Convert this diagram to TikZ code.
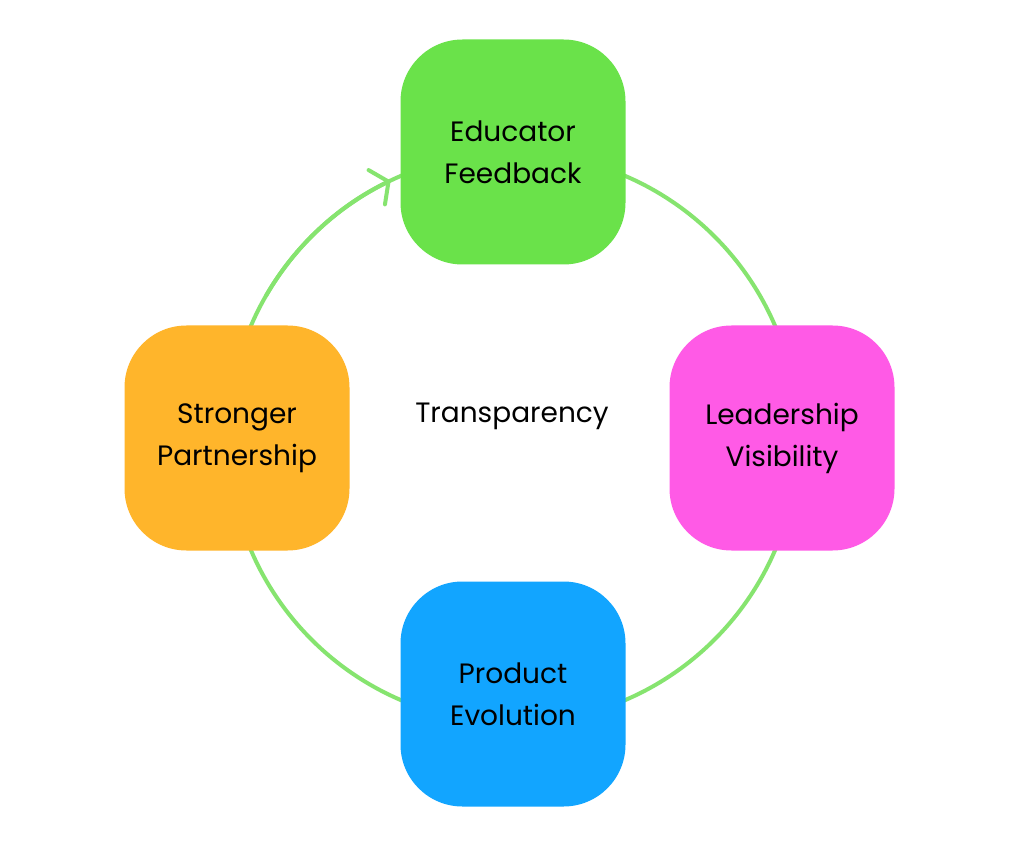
\documentclass[tikz,border=0pt]{standalone}
\usepackage{fontspec}
\setmainfont{Poppins}
\usetikzlibrary{arrows.meta}
\definecolor{cgreen}{HTML}{6AE24A}
\definecolor{cline}{HTML}{86E46F}
\definecolor{cpink}{HTML}{FF5AE6}
\definecolor{cblue}{HTML}{12A5FF}
\definecolor{corange}{HTML}{FFB52B}
\begin{document}
\begin{tikzpicture}[x=1pt,y=1pt,
  box/.style={minimum width=225pt,minimum height=225pt,rounded corners=62pt,align=center,font=\fontsize{28}{42}\selectfont,text=black,inner sep=0pt},
  ring/.style={draw=cline,line width=4pt}]
\useasboundingbox (0,0) rectangle (1024,847);
\fill[white] (0,0) rectangle (1024,847);
\coordinate (c) at (513,409);
\draw[ring] (c) circle (285);
\draw[ring,line cap=round,-{Straight Barb[length=13pt,width=38pt,line width=4pt,round]}] ([shift={(150:285)}]c) arc (150:115.5:285);
\node[box,fill=cgreen] (ef) at (513,695) {Educator\\Feedback};
\node[box,fill=cpink] (lv) at (782,409) {Leadership\\Visibility};
\node[box,fill=cblue] (pe) at (513,153) {Product\\Evolution};
\node[box,fill=corange] (sp) at (237,409) {Stronger\\Partnership};
\node[font=\fontsize{28}{34}\selectfont] (t) at (512,431) {Transparency};
\end{tikzpicture}
\end{document}
